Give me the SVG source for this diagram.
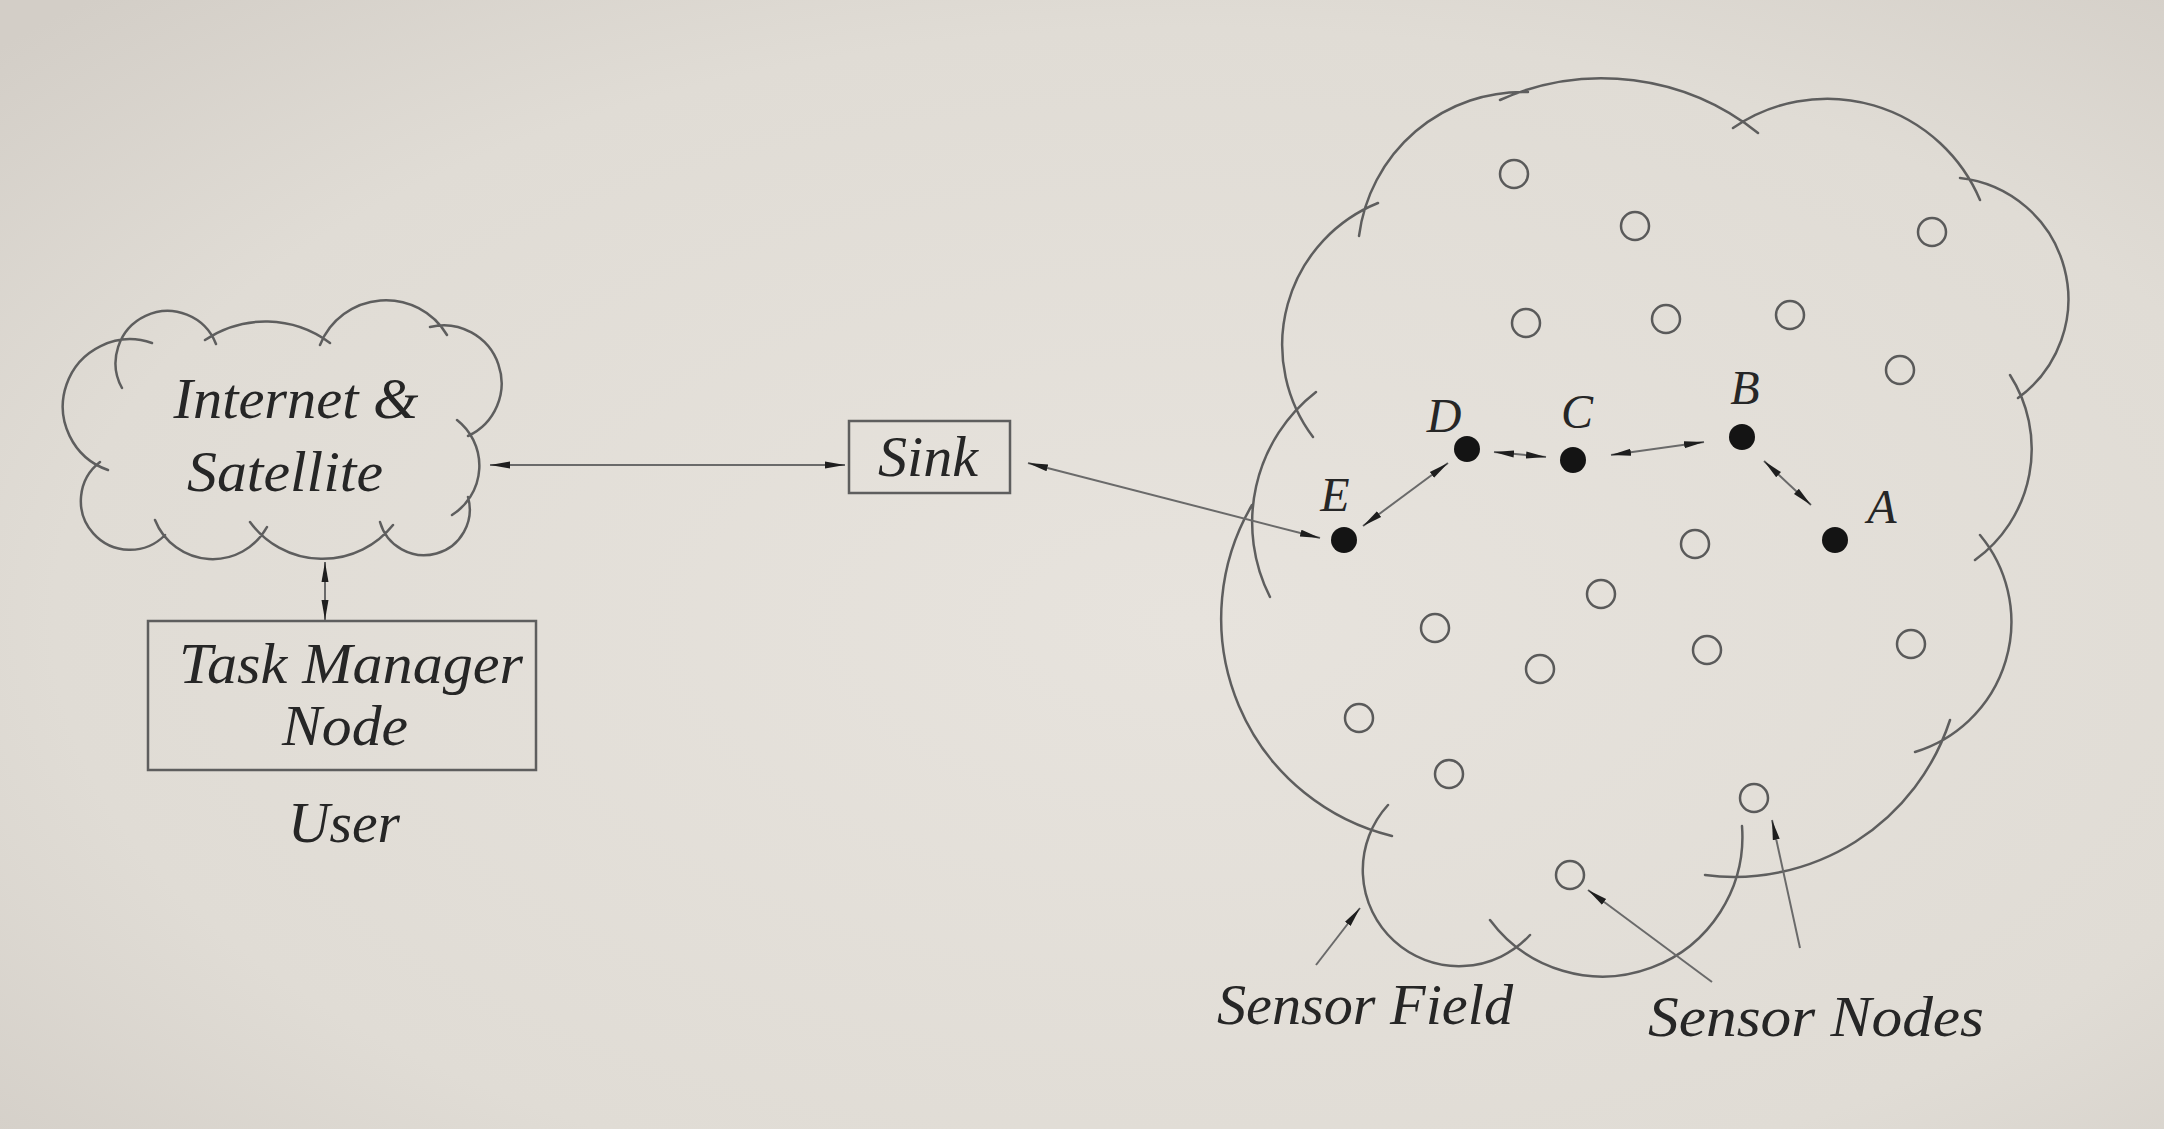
<svg xmlns="http://www.w3.org/2000/svg" width="2164" height="1129" viewBox="0 0 2164 1129">
<defs>
<radialGradient id="bg" cx="0.55" cy="0.55" r="0.75">
<stop offset="0" stop-color="#e7e3dd"/>
<stop offset="0.7" stop-color="#e0dcd5"/>
<stop offset="1" stop-color="#d3cec7"/>
</radialGradient>
<marker id="ah" viewBox="0 0 20 10" refX="20" refY="5" markerWidth="20" markerHeight="10" markerUnits="userSpaceOnUse" orient="auto-start-reverse">
<path d="M0,1.5 L20,5 L0,8.5 z" fill="#1e1e1e"/>
</marker>
<style>
.cloud{fill:none;stroke:#5e5e5e;stroke-width:2.5;stroke-linecap:round}
.box{fill:none;stroke:#5e5e5e;stroke-width:2.5}
.lbl{font-family:"Liberation Serif","Times New Roman",serif;font-style:italic;fill:#262626;text-anchor:middle}
.big{font-size:56px}
.let{font-size:48px}
.link{fill:none;stroke:#6a6a6a;stroke-width:2}
.two{marker-start:url(#ah);marker-end:url(#ah)}
.one{marker-end:url(#ah)}
.sn{fill:none;stroke:#5a5a5a;stroke-width:2.5}
.act{fill:#141414}
</style>
</defs>
<rect width="2164" height="1129" fill="url(#bg)"/>

<g id="internet-cloud">
<path class="cloud" d="M108,470 A67,67 0 0 1 152,343 M122,388 A52,52 0 1 1 216,344 M205,340 A108,108 0 0 1 330,343 M320,345 A71,71 0 0 1 447,335 M430,327 A58,58 0 0 1 468,436 M457,420 A58,58 0 0 1 452,515 M468,497 A40,40 0 1 1 380,522 M393,525 A90,90 0 0 1 250,522 M267,527 A62,62 0 0 1 155,520 M165,535 A49,49 0 1 1 100,462"/>
<text class="lbl big" x="296" y="418" textLength="245" lengthAdjust="spacingAndGlyphs">Internet &amp;</text>
<text class="lbl big" x="285" y="491" textLength="196" lengthAdjust="spacingAndGlyphs">Satellite</text>
</g>

<g id="task-manager">
<rect class="box" x="148" y="621" width="388" height="149"/>
<text class="lbl big" x="351" y="683" textLength="344" lengthAdjust="spacingAndGlyphs">Task Manager</text>
<text class="lbl big" x="345" y="745" textLength="126" lengthAdjust="spacingAndGlyphs">Node</text>
</g>

<g id="user-label">
<text class="lbl big" x="344" y="842" textLength="112" lengthAdjust="spacingAndGlyphs">User</text>
</g>

<g id="sink">
<rect class="box" x="849" y="421" width="161" height="72"/>
<text class="lbl big" x="928" y="476" textLength="100" lengthAdjust="spacingAndGlyphs">Sink</text>
</g>

<g id="sensor-field">
<path class="cloud" d="M1359,236 A165,165 0 0 1 1528,92 M1500,100 A250,250 0 0 1 1758,133 M1733,128 A166,166 0 0 1 1980,200 M1960,178 A122,122 0 0 1 2018,398 M2010,375 A137,137 0 0 1 1975,560 M1980,535 A136,136 0 0 1 1915,752 M1950,720 A227,227 0 0 1 1705,875 M1742,826 A140,140 0 0 1 1490,920 M1530,935 A96,96 0 0 1 1388,805 M1392,836 A224,224 0 0 1 1252,505 M1270,597 A165,165 0 0 1 1316,392 M1313,437 A153,153 0 0 1 1378,203"/>
<text class="lbl big" x="1365" y="1024" textLength="296" lengthAdjust="spacingAndGlyphs">Sensor Field</text>
</g>

<g id="sensor-nodes">
<circle class="sn" cx="1514" cy="174" r="14"/>
<circle class="sn" cx="1635" cy="226" r="14"/>
<circle class="sn" cx="1932" cy="232" r="14"/>
<circle class="sn" cx="1526" cy="323" r="14"/>
<circle class="sn" cx="1666" cy="319" r="14"/>
<circle class="sn" cx="1790" cy="315" r="14"/>
<circle class="sn" cx="1900" cy="370" r="14"/>
<circle class="sn" cx="1695" cy="544" r="14"/>
<circle class="sn" cx="1601" cy="594" r="14"/>
<circle class="sn" cx="1435" cy="628" r="14"/>
<circle class="sn" cx="1707" cy="650" r="14"/>
<circle class="sn" cx="1540" cy="669" r="14"/>
<circle class="sn" cx="1911" cy="644" r="14"/>
<circle class="sn" cx="1359" cy="718" r="14"/>
<circle class="sn" cx="1449" cy="774" r="14"/>
<circle class="sn" cx="1754" cy="798" r="14"/>
<circle class="sn" cx="1570" cy="875" r="14"/>
<text class="lbl big" x="1816" y="1036" textLength="336" lengthAdjust="spacingAndGlyphs">Sensor Nodes</text>
</g>

<g id="node-E">
<circle class="act" cx="1344" cy="540" r="13"/>
<text class="lbl let" x="1335" y="511">E</text>
</g>
<g id="node-D">
<circle class="act" cx="1467" cy="449" r="13"/>
<text class="lbl let" x="1444" y="432">D</text>
</g>
<g id="node-C">
<circle class="act" cx="1573" cy="460" r="13"/>
<text class="lbl let" x="1577" y="428">C</text>
</g>
<g id="node-B">
<circle class="act" cx="1742" cy="437" r="13"/>
<text class="lbl let" x="1745" y="404">B</text>
</g>
<g id="node-A">
<circle class="act" cx="1835" cy="540" r="13"/>
<text class="lbl let" x="1882" y="523">A</text>
</g>

<g id="connectors">
<path class="link two" d="M490,465 L845,465"/>
<path class="link two" d="M325,562 L325,620"/>
<path class="link two" d="M1028,463 L1320,538"/>
<path class="link two" d="M1363,526 L1448,463"/>
<path class="link two" d="M1494,452 L1546,457"/>
<path class="link two" d="M1611,455 L1704,442"/>
<path class="link two" d="M1764,461 L1811,505"/>
<path class="link one" d="M1316,965 L1360,908"/>
<path class="link one" d="M1712,982 L1588,890"/>
<path class="link one" d="M1800,948 L1772,820"/>
</g>
</svg>
